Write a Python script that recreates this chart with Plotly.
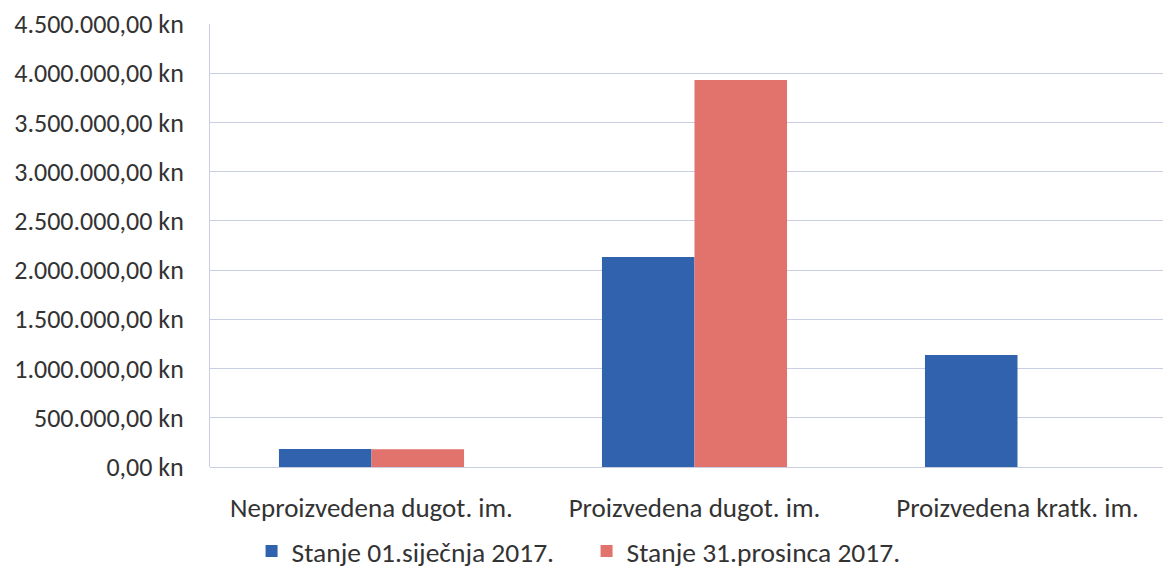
import plotly.graph_objects as go

categories = ["Neproizvedena dugot. im.", "Proizvedena dugot. im.", "Proizvedena kratk. im."]
stanje_01_sijecnja = [183000, 2134000, 1138000]
stanje_31_prosinca = [180000, 3930000, 0]
series_names = ["Stanje 01.siječnja 2017.", "Stanje 31.prosinca 2017."]
tick_vals = [0, 500000, 1000000, 1500000, 2000000, 2500000, 3000000, 3500000, 4000000, 4500000]
tick_text = ["0,00 kn", "500.000,00 kn", "1.000.000,00 kn", "1.500.000,00 kn", "2.000.000,00 kn",
             "2.500.000,00 kn", "3.000.000,00 kn", "3.500.000,00 kn", "4.000.000,00 kn", "4.500.000,00 kn"]

FONT = "Carlito, Calibri, sans-serif"

fig = go.Figure()
fig.add_trace(go.Bar(x=categories, y=stanje_01_sijecnja, name=series_names[0],
                     marker=dict(color="#3162ad", line=dict(width=0))))
fig.add_trace(go.Bar(x=categories, y=stanje_31_prosinca, name=series_names[1],
                     marker=dict(color="#e2736c", line=dict(width=0))))

fig.update_layout(
    width=1171, height=573,
    margin=dict(l=202, r=0, t=16, b=114, autoexpand=False),
    paper_bgcolor="white", plot_bgcolor="white",
    barmode="group", bargap=0.427, bargroupgap=0,
    font=dict(family=FONT, size=26, color="#333333"),
    showlegend=True,
    legend=dict(orientation="h", xref="container", yref="container",
                x=0.208, xanchor="left", y=0.052, yanchor="middle",
                font=dict(size=27.5, color="#333333"), itemwidth=30,
                entrywidth=290, entrywidthmode="pixels",
                traceorder="normal"),
    xaxis=dict(showgrid=False, showline=False, ticks="", ticklabelstandoff=22,
               automargin=False, tickfont=dict(size=27)),
    yaxis=dict(range=[0, 4500000], tickvals=tick_vals, ticktext=tick_text,
               showgrid=True, gridcolor="#c9cee2", gridwidth=1,
               showline=True, linecolor="#c9cee2", linewidth=1,
               zeroline=True, zerolinecolor="#c9cee2", zerolinewidth=1,
               automargin=False,
               ticks="", ticklabelstandoff=20, tickfont=dict(size=26)),
)

fig.write_html("out.html")
